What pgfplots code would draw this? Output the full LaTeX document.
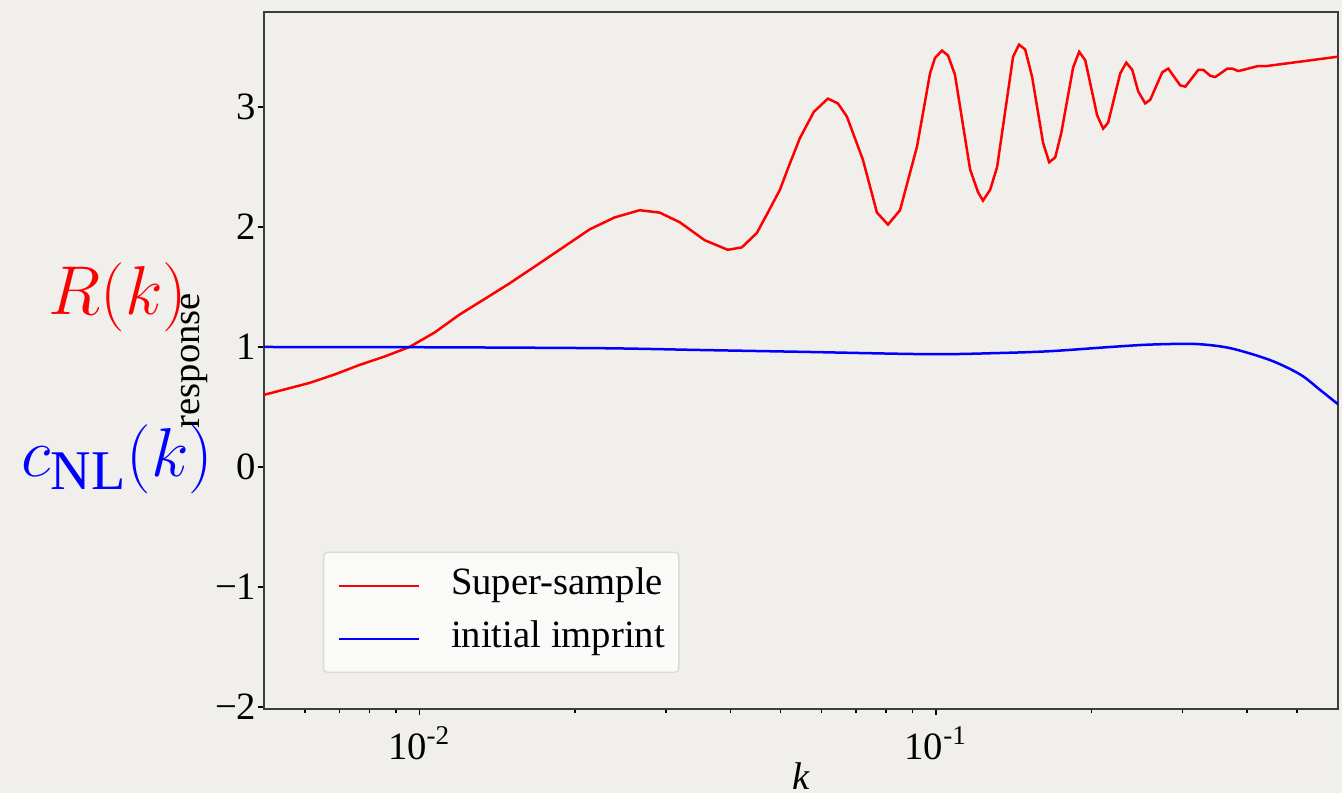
\documentclass[border=0pt]{standalone}
\usepackage{fontspec}
\setmainfont{Liberation Serif}
\usepackage{pgfplots}
\pgfplotsset{compat=1.18}

\definecolor{paper}{RGB}{240,239,236}
\definecolor{spine}{RGB}{60,60,60}
\definecolor{legfill}{RGB}{250,250,249}

% R(k): super-sample response
\pgfplotstableread{
k v
0.00499 0.60
0.005523 0.65
0.00612 0.70
0.006844 0.77
0.00765 0.85
0.008554 0.92
0.009563 1.00
0.01069 1.12
0.011955 1.27
0.01337 1.40
0.01494 1.53
0.01671 1.67
0.01867 1.81
0.02135 1.98
0.02387 2.08
0.02669 2.14
0.02918 2.12
0.03190 2.04
0.03566 1.89
0.03953 1.81
0.04207 1.83
0.04499 1.95
0.04725 2.12
0.04986 2.31
0.05213 2.53
0.05450 2.74
0.05801 2.96
0.06176 3.07
0.06458 3.03
0.06722 2.92
0.07220 2.56
0.07685 2.12
0.08072 2.02
0.08517 2.14
0.09188 2.67
0.09736 3.28
0.09956 3.41
0.1027 3.47
0.1055 3.43
0.1088 3.27
0.1164 2.48
0.1206 2.29
0.1233 2.22
0.1273 2.31
0.1313 2.50
0.1410 3.42
0.1448 3.52
0.1488 3.48
0.1535 3.25
0.1612 2.70
0.1656 2.54
0.1701 2.58
0.1747 2.78
0.1843 3.33
0.1893 3.46
0.1945 3.39
0.2051 2.93
0.2107 2.82
0.2154 2.87
0.2273 3.28
0.2335 3.37
0.2398 3.31
0.2463 3.13
0.2541 3.03
0.2598 3.06
0.2742 3.29
0.2816 3.32
0.2971 3.18
0.3039 3.17
0.3220 3.31
0.3292 3.31
0.3396 3.26
0.3473 3.25
0.3664 3.32
0.3746 3.32
0.3848 3.30
0.3936 3.31
0.4189 3.34
0.4341 3.34
0.6013 3.42
}\superdata

% c_NL(k): initial imprint
\pgfplotstableread{
k v
0.00499 1.00
0.01 0.998
0.02233 0.99
0.03488 0.975
0.0545 0.96
0.09736 0.94
0.133 0.95
0.1663 0.965
0.2174 1.00
0.2598 1.02
0.3176 1.025
0.3714 0.99
0.4439 0.89
0.5075 0.77
0.5548 0.64
0.6013 0.52
}\imprintdata

\begin{document}
\begin{tikzpicture}
\fill[paper] (0,0) rectangle (402.6pt,237.9pt);
\useasboundingbox (0,0) rectangle (402.6pt,237.9pt);
\begin{axis}[
  at={(79.2pt,25.2pt)}, anchor=south west,
  scale only axis,
  width=322.2pt, height=209.1pt,
  xmode=log,
  xmin=0.005, xmax=0.6,
  ymin=-2.017, ymax=3.792,
  xtick={0.01,0.1},
  xticklabels={10\textsuperscript{-2},10\textsuperscript{-1}},
  minor xtick={0.006,0.007,0.008,0.009,0.02,0.03,0.04,0.05,0.06,0.07,0.08,0.09,0.2,0.3,0.4,0.5},
  ytick={-2,-1,0,1,2,3},
  yticklabels={−2,−1,0,1,2,3},
  tick align=outside,
  tick pos=left,
  major tick length=1.8pt,
  minor tick length=1.2pt,
  tick style={black, line width=0.4pt},
  axis line style={spine, line width=0.5pt},
  tick label style={font=\fontsize{11.6}{13}\selectfont},
  yticklabel style={xshift=3pt},
  xlabel={\textit{k}},
  ylabel={response},
  label style={font=\fontsize{11.6}{13}\selectfont},
  xlabel style={at={(axis description cs:0.5,-0.1148)}, anchor=base},
  ylabel style={at={(axis description cs:-0.0596,0.5)}, anchor=base, rotate=0},
  legend style={at={(axis description cs:0.0549,0.0517)}, anchor=south west,
    fill=legfill, draw=black!15, rounded corners=1.2pt,
    inner xsep=4.2pt, inner ysep=4.8pt, row sep=5.4pt,
    font=\fontsize{11.6}{13}\selectfont,
    nodes={inner sep=0pt, text height=8pt, text depth=2.5pt},
    /tikz/every odd column/.append style={column sep=9.3pt}},
  legend cell align=left,
  legend image code/.code={\draw[#1] (0pt,0pt) -- (24pt,0pt);},
]
\addplot[red, line width=0.75pt] table[x=k, y=v] {\superdata};
\addlegendentry{Super-sample}
\addplot[blue, line width=0.75pt, smooth] table[x=k, y=v] {\imprintdata};
\addlegendentry{initial imprint}
\end{axis}
\node[anchor=base, red, font=\fontsize{19.8}{22}\selectfont] at (35.4pt,143.4pt) {$R(k)$};
\node[anchor=base, blue, font=\fontsize{19.8}{22}\selectfont] at (35.25pt,94.8pt)
  {$c_{\mbox{\fontsize{16.8}{18}\selectfont$\mathrm{NL}$}}(k)$};
\end{tikzpicture}
\end{document}
